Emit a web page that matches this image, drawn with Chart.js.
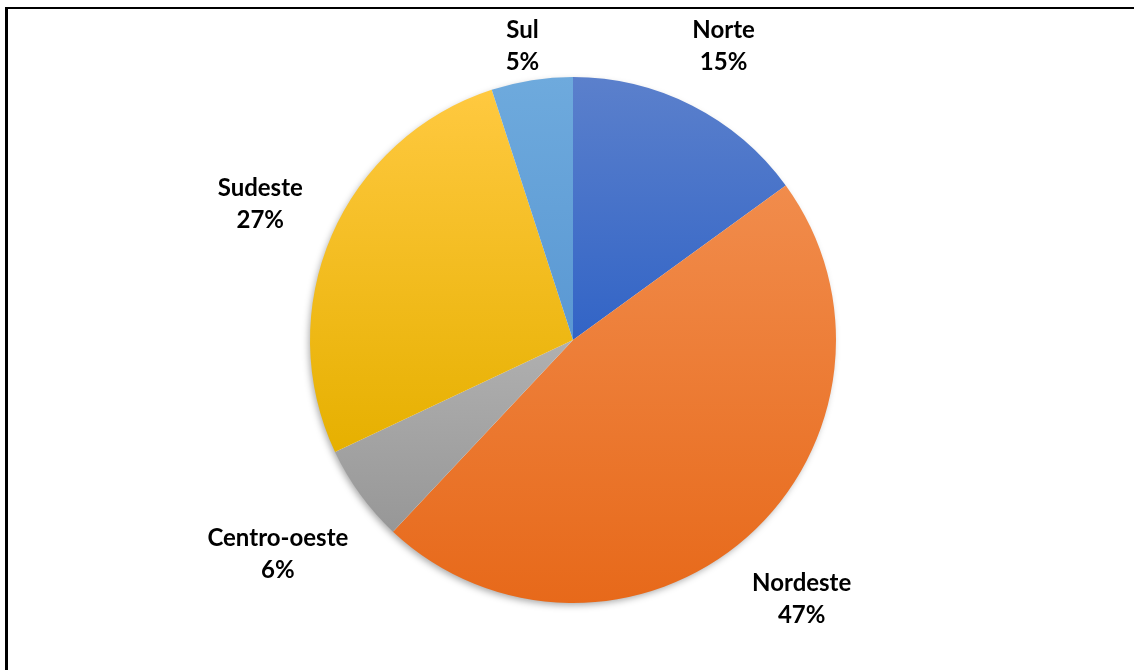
<!DOCTYPE html>
<html>
<head>
<meta charset="utf-8">
<script src="https://cdn.jsdelivr.net/npm/chart.js@4/dist/chart.umd.min.js"></script>
<style>
  html, body { margin: 0; padding: 0; background: #fff; overflow: hidden; }
  .wrap { position: relative; width: 1134px; height: 670px; }
  .frame {
    position: absolute; left: 5px; top: 7px; width: 1200px; height: 800px;
    border-left: 3px solid #000; border-top: 2px solid #000;
  }
  canvas { position: absolute; left: 0; top: 0; }
</style>
</head>
<body>
<div class="wrap">
  <div class="frame"></div>
  <canvas id="regionPie" width="1134" height="670"></canvas>
</div>
<script>
// DATA
const regioes = ['Norte', 'Nordeste', 'Centro-oeste', 'Sudeste', 'Sul']
const percentuais = [15, 47, 6, 27, 5]

// top / bottom colours of each slice gradient
const coresTopo = ['#5b80cc', '#f18c4c', '#b0b0b0', '#ffc940', '#6eaadd']
const coresBase = ['#3264c6', '#e7691a', '#979797', '#e6b000', '#5a98d3']

const total = percentuais.reduce((a, b) => a + b, 0)

// vertical extent of a slice (for the gradient)
sliceYRange = (cy, r, a0, a1) => {
    let ys = [cy, cy + r * Math.sin(a0), cy + r * Math.sin(a1)]
    for (let k = -2; k <= 2; k++) {
        let top = -Math.PI / 2 + k * 2 * Math.PI
        let bot = Math.PI / 2 + k * 2 * Math.PI
        if (top > a0 && top < a1) ys.push(cy - r)
        if (bot > a0 && bot < a1) ys.push(cy + r)
    }
    return [Math.min(...ys), Math.max(...ys)]
}

const gradientFill = (context) => {
    const chart = context.chart
    const area = chart.chartArea
    const i = context.dataIndex
    if (!area) return coresTopo[i]
    const cx = (area.left + area.right) / 2
    const cy = (area.top + area.bottom) / 2
    const r = Math.min(area.right - area.left, area.bottom - area.top) / 2
    let before = 0
    for (let k = 0; k < i; k++) before += percentuais[k]
    const a0 = -Math.PI / 2 + before / total * 2 * Math.PI
    const a1 = a0 + percentuais[i] / total * 2 * Math.PI
    const [y0, y1] = sliceYRange(cy, r, a0, a1)
    const g = chart.ctx.createLinearGradient(0, y0, 0, y1)
    g.addColorStop(0, coresTopo[i])
    g.addColorStop(1, coresBase[i])
    return g
}

// soft shadow behind the pie
const pieShadow = {
    id: 'pieShadow',
    beforeDatasetsDraw(chart) {
        const arc = chart.getDatasetMeta(0).data[0]
        if (!arc) return
        const ctx = chart.ctx
        ctx.save()
        ctx.shadowColor = 'rgba(0,0,0,0.35)'
        ctx.shadowBlur = 7
        ctx.shadowOffsetX = -2
        ctx.shadowOffsetY = 3
        ctx.fillStyle = '#fff'
        ctx.beginPath()
        ctx.arc(arc.x, arc.y, arc.outerRadius - 1, 0, Math.PI * 2)
        ctx.fill()
        ctx.restore()
    }
}

// labels outside each slice: name + percent
const outsideLabels = {
    id: 'outsideLabels',
    afterDatasetsDraw(chart) {
        const ctx = chart.ctx
        const lineH = 32
        const gap = 26
        ctx.save()
        ctx.font = 'bold 24px Lato'
        ctx.fillStyle = '#000'
        ctx.textAlign = 'center'
        ctx.textBaseline = 'middle'
        chart.getDatasetMeta(0).data.forEach((arc, i) => {
            const mid = (arc.startAngle + arc.endAngle) / 2
            const ux = Math.cos(mid), uy = Math.sin(mid)
            const pct = Math.round(percentuais[i] / total * 100) + '%'
            const w = Math.max(ctx.measureText(regioes[i]).width, ctx.measureText(pct).width)
            const h = lineH * 2
            const d = arc.outerRadius + gap + Math.abs(ux) * w / 2 + Math.abs(uy) * h / 2
            let x = arc.x + ux * d
            let y = arc.y + uy * d
            if (y - h / 2 < 14) y = 14 + h / 2
            ctx.fillText(regioes[i], x, y - lineH / 2)
            ctx.fillText(pct, x, y + lineH / 2)
        })
        ctx.restore()
    }
}

const ctx = document.getElementById('regionPie').getContext('2d')

new Chart(ctx, {
    type: 'pie',
    data: {
        labels: regioes,
        datasets: [{
            data: percentuais,
            backgroundColor: gradientFill,
            borderWidth: 0,
            hoverOffset: 0
        }]
    },
    options: {
        responsive: false,
        animation: false,
        layout: {
            padding: { top: 77, bottom: 67, left: 12, right: 0 }
        },
        plugins: {
            legend: { display: false },
            tooltip: { enabled: false }
        }
    },
    plugins: [pieShadow, outsideLabels]
})
</script>
</body>
</html>
